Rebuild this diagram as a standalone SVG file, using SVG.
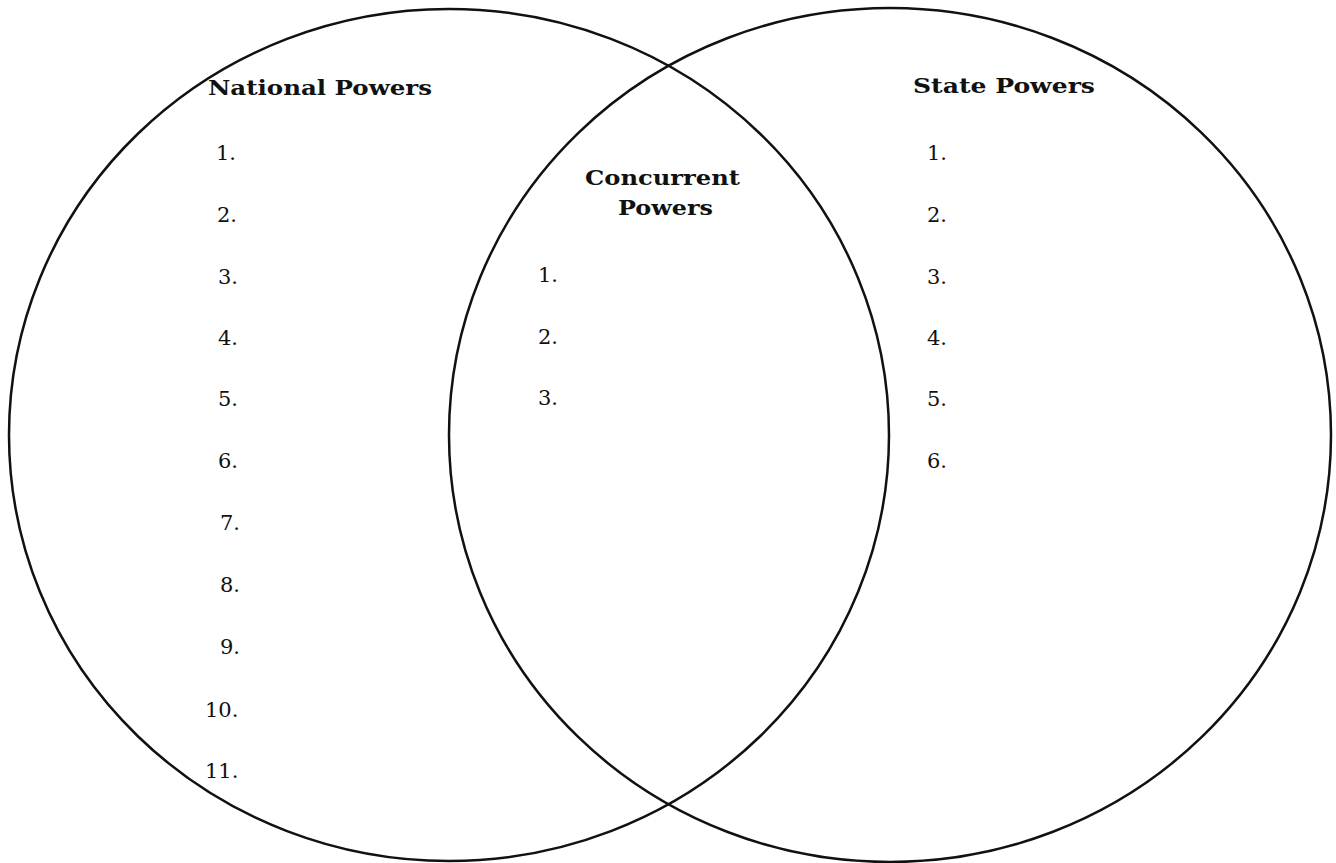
<svg xmlns="http://www.w3.org/2000/svg" width="1336" height="863" viewBox="0 0 1336 863">
<style>
.c{fill:none;stroke:#111;stroke-width:2.5}
.h{font-family:"DejaVu Serif","Liberation Serif",serif;font-weight:bold;font-size:20px;fill:#111}
.n{font-family:"DejaVu Serif","Liberation Serif",serif;font-size:21px;fill:#111}
</style>
<rect width="1336" height="863" fill="#fff"/>
<g id="national">
<ellipse class="c" cx="449" cy="435" rx="440" ry="426"/>
<text class="h" x="208" y="95" textLength="224" lengthAdjust="spacingAndGlyphs">National Powers</text>
<text class="n" x="216" y="160">1.</text>
<text class="n" x="217" y="222">2.</text>
<text class="n" x="218" y="284">3.</text>
<text class="n" x="218" y="345">4.</text>
<text class="n" x="218" y="406">5.</text>
<text class="n" x="218" y="468">6.</text>
<text class="n" x="220" y="530">7.</text>
<text class="n" x="220" y="592">8.</text>
<text class="n" x="220" y="654">9.</text>
<text class="n" x="205" y="717">10.</text>
<text class="n" x="205" y="778">11.</text>
</g>
<g id="state">
<ellipse class="c" cx="890" cy="435" rx="441" ry="427"/>
<text class="h" x="913" y="93" textLength="182" lengthAdjust="spacingAndGlyphs">State Powers</text>
<text class="n" x="927" y="160">1.</text>
<text class="n" x="927" y="222">2.</text>
<text class="n" x="927" y="284">3.</text>
<text class="n" x="927" y="345">4.</text>
<text class="n" x="927" y="406">5.</text>
<text class="n" x="927" y="468">6.</text>
</g>
<g id="concurrent">
<text class="h" x="585" y="185" textLength="155" lengthAdjust="spacingAndGlyphs">Concurrent</text>
<text class="h" x="618" y="215" textLength="95" lengthAdjust="spacingAndGlyphs">Powers</text>
<text class="n" x="538" y="282">1.</text>
<text class="n" x="538" y="344">2.</text>
<text class="n" x="538" y="405">3.</text>
</g>
<g id="connectors"></g>
</svg>
